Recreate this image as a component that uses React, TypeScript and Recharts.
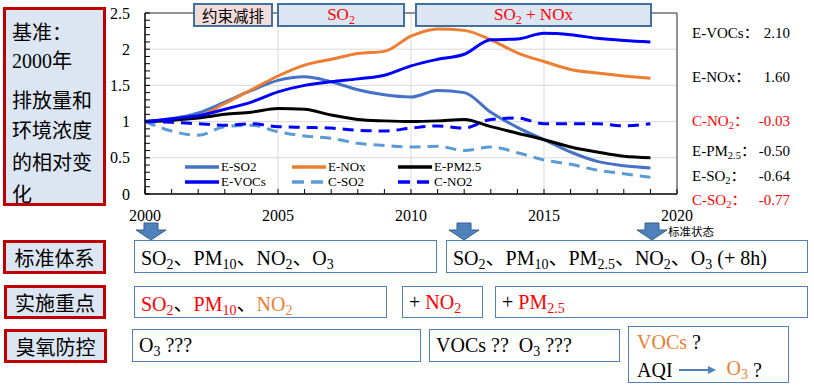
import React from "react"
import { LineChart, Line, XAxis, YAxis, CartesianGrid, ReferenceLine } from "recharts"

const years = [2000, 2001, 2002, 2003, 2004, 2005, 2006, 2007, 2008, 2009, 2010, 2011, 2012, 2013, 2014, 2015, 2016, 2017, 2018, 2019]
const eSO2 = [1.0, 1.04, 1.12, 1.27, 1.43, 1.57, 1.62, 1.55, 1.44, 1.37, 1.34, 1.43, 1.4, 1.13, 0.92, 0.75, 0.58, 0.45, 0.39, 0.36]
const eNOx = [1.0, 1.02, 1.07, 1.25, 1.44, 1.63, 1.78, 1.86, 1.94, 1.97, 2.18, 2.28, 2.26, 2.13, 1.95, 1.83, 1.72, 1.67, 1.63, 1.6]
const ePM25 = [1.0, 1.02, 1.05, 1.1, 1.13, 1.18, 1.17, 1.09, 1.03, 1.01, 1.0, 1.01, 1.03, 0.93, 0.84, 0.75, 0.65, 0.58, 0.52, 0.5]
const eVOCs = [1.0, 1.04, 1.08, 1.17, 1.27, 1.41, 1.5, 1.55, 1.59, 1.64, 1.77, 1.86, 1.93, 2.13, 2.14, 2.22, 2.2, 2.15, 2.12, 2.1]
const cSO2 = [1.0, 0.87, 0.81, 0.93, 0.95, 0.86, 0.8, 0.77, 0.7, 0.67, 0.65, 0.66, 0.6, 0.65, 0.57, 0.47, 0.41, 0.33, 0.28, 0.23]
const cNO2 = [1.0, 0.99, 0.97, 0.95, 0.97, 0.93, 0.92, 0.91, 0.88, 0.87, 0.91, 0.94, 0.91, 1.03, 1.05, 0.97, 0.97, 0.97, 0.94, 0.97]

const xMajor = [2000, 2005, 2010, 2015, 2020]
const yMajor = [0, 0.5, 1, 1.5, 2, 2.5]

// right-hand summary (change vs 2000)
const sumNames = ["E-VOCs", "E-NOx", "C-NO2", "E-PM2.5", "E-SO2", "C-SO2"]
const sumValues = ["2.10", "1.60", "-0.03", "-0.50", "-0.64", "-0.77"]

const series = [
  { key: "eSO2", name: "E-SO2", values: eSO2, color: "#4472C4", dash: undefined },
  { key: "eNOx", name: "E-NOx", values: eNOx, color: "#ED7D31", dash: undefined },
  { key: "ePM25", name: "E-PM2.5", values: ePM25, color: "#000000", dash: undefined },
  { key: "eVOCs", name: "E-VOCs", values: eVOCs, color: "#0000FF", dash: undefined },
  { key: "cSO2", name: "C-SO2", values: cSO2, color: "#5B9BD5", dash: "11 7" },
  { key: "cNO2", name: "C-NO2", values: cNO2, color: "#0000FF", dash: "11 7" },
]

const data = years.map((year, i) => {
  const row: Record<string, number> = { year }
  series.forEach((s) => (row[s.key] = s.values[i]))
  return row
})

const xTicks = Array.from({ length: 21 }, (_, i) => 2000 + i)
const yTicks = Array.from({ length: 26 }, (_, i) => i / 10)

const serif = "'Liberation Serif', 'Noto Sans CJK SC', serif"
const cjk = "'Noto Sans CJK SC', sans-serif"
const RED = "#FF0000"
const ORANGE = "#ED7D31"

const XTick = (props: any) => {
  const { x, y, payload } = props
  const major = xMajor.includes(payload.value)
  return (
    <g>
      <line x1={x} x2={x} y1={y} y2={y - 5} stroke="#000" strokeWidth={1} />
      {major && (
        <text x={x} y={y + 21} textAnchor="middle" dominantBaseline="central" fontFamily={serif} fontSize={16} fill="#000">
          {payload.value}
        </text>
      )}
    </g>
  )
}

const YTick = (props: any) => {
  const { x, y, payload } = props
  const major = yMajor.some((v) => Math.abs(v - payload.value) < 1e-6)
  return (
    <g>
      <line x1={x} x2={x + 5} y1={y} y2={y} stroke="#000" strokeWidth={1} />
      {major && (
        <text x={x - 15} y={y} textAnchor="end" dominantBaseline="central" fontFamily={serif} fontSize={16} fill="#000">
          {String(payload.value)}
        </text>
      )}
    </g>
  )
}

const Sub = ({ children }: { children: React.ReactNode }) => (
  <span style={{ fontSize: "0.7em", position: "relative", top: "0.32em" }}>{children}</span>
)

const Box = ({ x, y, w, h, border, bg, bw = 1.5, children, style }: any) => (
  <div
    style={{
      position: "absolute",
      left: x,
      top: y,
      width: w,
      height: h,
      boxSizing: "border-box",
      border: `${bw}px solid ${border}`,
      background: bg,
      display: "flex",
      alignItems: "center",
      whiteSpace: "pre",
      ...style,
    }}
  >
    <span>{children}</span>
  </div>
)

const Arrow = ({ cx }: { cx: number }) => (
  <polygon
    points={`${cx - 7},223 ${cx + 7},223 ${cx + 7},230 ${cx + 15},230 ${cx},240 ${cx - 15},230 ${cx - 7},230`}
    fill="#4F81BD"
    stroke="#385D8A"
    strokeWidth={1}
  />
)

const nameWithSub = (name: string) => {
  const m = name.match(/^(.*?)(2\.5|2)$/)
  if (!m) return name
  return (
    <>
      {m[1]}
      <Sub>{m[2]}</Sub>
    </>
  )
}

export default function App() {
  const labelBox = { border: "#C00000", bg: "#DCE6F2", bw: 3 }
  const rowBox = { border: "#4F81BD", bg: "#fff", bw: 1.5 }
  const boxText = { fontFamily: serif, fontSize: 20, paddingLeft: 6, color: "#000" }
  const labelText = { fontFamily: cjk, fontSize: 20, justifyContent: "center", color: "#000" }

  return (
    <div style={{ position: "absolute", left: 0, top: 0, width: 814, height: 390, background: "#fff", overflow: "hidden" }}>
      {/* left description box */}
      <div
        style={{
          position: "absolute",
          left: 3,
          top: 7,
          width: 103,
          height: 199,
          boxSizing: "border-box",
          border: "3px solid #C00000",
          background: "#DCE6F2",
        }}
      >
        {["基准：", "2000年", "排放量和", "环境浓度", "的相对变", "化"].map((t, i) => (
          <div
            key={i}
            style={{
              position: "absolute",
              left: 6,
              top: [30, 58, 98, 128, 160, 192][i] - 7 - 17,
              fontFamily: serif,
              fontSize: 20,
              lineHeight: "34px",
              whiteSpace: "nowrap",
            }}
          >
            {t}
          </div>
        ))}
      </div>

      <div style={{ position: "absolute", left: 0, top: 0 }}>
        <LineChart width={814} height={230} data={data} margin={{ top: 13, right: 137, left: 105, bottom: 0 }}>
          <CartesianGrid stroke="#D9D9D9" horizontalValues={[0.5, 1, 1.5, 2]} verticalValues={[2005, 2010, 2015]} />
          <XAxis
            dataKey="year"
            type="number"
            domain={[2000, 2020]}
            ticks={xTicks}
            interval={0}
            height={36}
            tickSize={0}
            tickMargin={0}
            tickLine={false}
            tick={<XTick />}
            axisLine={{ stroke: "#000", strokeWidth: 1.5 }}
          />
          <YAxis
            type="number"
            domain={[0, 2.5]}
            ticks={yTicks}
            interval={0}
            width={40}
            tickSize={0}
            tickMargin={0}
            tickLine={false}
            tick={<YTick />}
            axisLine={{ stroke: "#000", strokeWidth: 1.5 }}
          />
          <ReferenceLine y={2.5} stroke="#262626" strokeWidth={1} />
          <ReferenceLine x={2020} stroke="#262626" strokeWidth={1} />
          {series.map((s) => (
            <Line
              key={s.key}
              dataKey={s.key}
              name={s.name}
              type="monotone"
              stroke={s.color}
              strokeWidth={3}
              strokeDasharray={s.dash}
              dot={false}
              activeDot={false}
              isAnimationActive={false}
            />
          ))}
        </LineChart>
      </div>

      {/* in-plot legend */}
      {series.map((s, i) => {
        const col = i % 3
        const row = Math.floor(i / 3)
        const lx = [185, 292, 398][col]
        const ly = [167, 182][row]
        return (
          <div key={s.key} style={{ position: "absolute", left: lx, top: ly - 8, height: 16, display: "flex", alignItems: "center" }}>
            <svg width={34} height={6} style={{ display: "block" }}>
              <line x1={0} x2={34} y1={3} y2={3} stroke={s.color} strokeWidth={3.5} strokeDasharray={s.dash ? "12 7" : undefined} />
            </svg>
            <span style={{ fontFamily: serif, fontSize: 13, marginLeft: 2, lineHeight: "16px" }}>{s.name}</span>
          </div>
        )
      })}

      {/* top phase boxes */}
      <Box x={193} y={3} w={80} h={24} border="#41719C" bg="#F2DCDB" bw={2} style={{ justifyContent: "center", fontFamily: cjk, fontSize: 15.5 }}>
        约束减排
      </Box>
      <Box x={277} y={3} w={128} h={24} border="#41719C" bg="#DCE6F2" bw={2} style={{ justifyContent: "center", fontFamily: serif, fontSize: 17, color: RED }}>
        SO<Sub>2</Sub>
      </Box>
      <Box x={415} y={3} w={237} h={24} border="#41719C" bg="#DCE6F2" bw={2} style={{ justifyContent: "center", fontFamily: serif, fontSize: 17, color: RED }}>
        SO<Sub>2</Sub> + NOx
      </Box>

      {/* right summary */}
      {sumNames.map((n, i) => {
        const y = [33, 77, 121, 151, 176, 200][i]
        const color = n.startsWith("C-") ? RED : "#000"
        return (
          <React.Fragment key={n}>
            <div style={{ position: "absolute", left: 692, top: y - 10, fontFamily: serif, fontSize: 15, lineHeight: "20px", color, whiteSpace: "nowrap" }}>
              {nameWithSub(n)}：
            </div>
            <div style={{ position: "absolute", right: 814 - 790, top: y - 10, fontFamily: serif, fontSize: 15, lineHeight: "20px", color }}>
              {sumValues[i]}
            </div>
          </React.Fragment>
        )
      })}

      {/* arrows */}
      <svg width={814} height={390} style={{ position: "absolute", left: 0, top: 0, pointerEvents: "none" }}>
        <Arrow cx={151} />
        <Arrow cx={464} />
        <Arrow cx={652} />
      </svg>
      <div style={{ position: "absolute", left: 668, top: 223, fontFamily: cjk, fontSize: 11.5, lineHeight: "16px" }}>标准状态</div>

      {/* row 1 */}
      <Box x={3} y={240} w={103} h={34} {...labelBox} style={labelText}>
        标准体系
      </Box>
      <Box x={134} y={240} w={303} h={33} {...rowBox} style={boxText}>
        SO<Sub>2</Sub>、PM<Sub>10</Sub>、NO<Sub>2</Sub>、O<Sub>3</Sub>
      </Box>
      <Box x={446} y={240} w={362} h={33} {...rowBox} style={boxText}>
        SO<Sub>2</Sub>、PM<Sub>10</Sub>、PM<Sub>2.5</Sub>、NO<Sub>2</Sub>、O<Sub>3</Sub> (+ 8h)
      </Box>

      {/* row 2 */}
      <Box x={4} y={285} w={102} h={34} {...labelBox} style={labelText}>
        实施重点
      </Box>
      <Box x={134} y={286} w={253} h={32} {...rowBox} style={boxText}>
        <span style={{ color: RED }}>
          SO<Sub>2</Sub>
        </span>
        、
        <span style={{ color: RED }}>
          PM<Sub>10</Sub>
        </span>
        、
        <span style={{ color: ORANGE }}>
          NO<Sub>2</Sub>
        </span>
      </Box>
      <Box x={402} y={286} w={81} h={32} {...rowBox} style={boxText}>
        {"+ "}
        <span style={{ color: RED }}>
          NO<Sub>2</Sub>
        </span>
      </Box>
      <Box x={495} y={286} w={313} h={32} {...rowBox} style={boxText}>
        {"+ "}
        <span style={{ color: RED }}>
          PM<Sub>2.5</Sub>
        </span>
      </Box>

      {/* row 3 */}
      <Box x={4} y={329} w={103} h={34} {...labelBox} style={labelText}>
        臭氧防控
      </Box>
      <Box x={132} y={329} w={289} h={33} {...rowBox} style={boxText}>
        O<Sub>3</Sub>{" ???"}
      </Box>
      <Box x={429} y={329} w={191} h={33} {...rowBox} style={boxText}>
        {"VOCs ??  O"}
        <Sub>3</Sub>
        {" ???"}
      </Box>
      <div
        style={{
          position: "absolute",
          left: 628,
          top: 326,
          width: 161,
          height: 57,
          boxSizing: "border-box",
          border: "1.5px solid #4F81BD",
          background: "#fff",
          fontFamily: serif,
          fontSize: 20,
        }}
      >
        <div style={{ position: "absolute", left: 8, top: 3, lineHeight: "24px", whiteSpace: "pre" }}>
          <span style={{ color: ORANGE }}>VOCs</span> ?
        </div>
        <div style={{ position: "absolute", left: 8, top: 29, lineHeight: "24px", display: "flex", alignItems: "center", whiteSpace: "pre" }}>
          <span>AQI</span>
          <svg width={42} height={10} style={{ margin: "0 4px 0 4px" }}>
            <line x1={2} x2={32} y1={5} y2={5} stroke="#4F81BD" strokeWidth={2} />
            <polygon points="31,1 39,5 31,9" fill="#4F81BD" />
          </svg>
          <span style={{ color: ORANGE, marginLeft: 4 }}>
            O<Sub>3</Sub>
          </span>
          <span>{" ?"}</span>
        </div>
      </div>
    </div>
  )
}
